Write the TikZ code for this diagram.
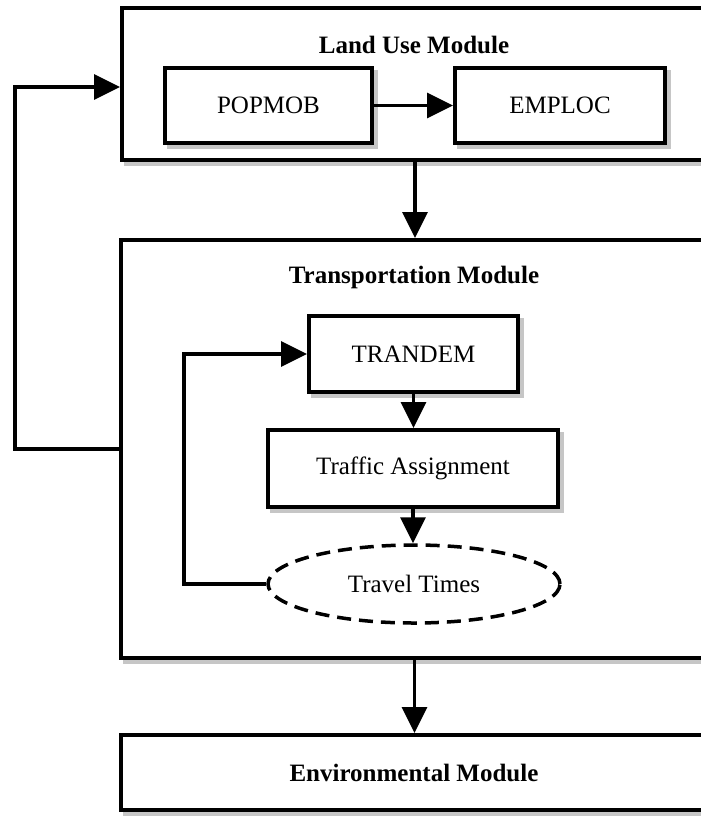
\documentclass[tikz,border=0pt]{standalone}
\usepackage{fontspec}
\setmainfont{Liberation Serif}
\usetikzlibrary{arrows.meta,shapes.geometric}
\begin{document}
\begin{tikzpicture}[x=1pt,y=-1pt,
  every node/.style={font=\fontsize{25pt}{30pt}\selectfont},
  box/.style={draw, rectangle, line width=4pt, fill=white, inner sep=0pt,
    preaction={fill=gray!45, draw=gray!45, line width=4pt, transform canvas={xshift=4pt,yshift=-4pt}}},
  modtitle/.style={font=\fontsize{25pt}{30pt}\selectfont\bfseries, inner sep=0pt},
  arr/.style={line width=3.5pt, line join=miter, -{Triangle[length=26pt,width=25pt]}},
  dashell/.style={draw, ellipse, line width=3.5pt, dash pattern=on 14pt off 8pt, fill=white, inner sep=0pt}
]
\useasboundingbox (0,0) rectangle (701,823);
\clip (0,0) rectangle (701,823);

% Land Use Module
\node[box, minimum width=586pt, minimum height=152pt] (landuse) at (415,84) {};
\node[modtitle] (lutitle) at (414,45) {Land Use Module};
\node[box, minimum width=207pt, minimum height=75pt] (popmob) at (268.5,105.5) {POPMOB};
\node[box, minimum width=210pt, minimum height=75pt] (emploc) at (560,105.5) {EMPLOC};

% Transportation Module
\node[box, minimum width=587pt, minimum height=418pt] (transport) at (414.5,449) {};
\node[modtitle] (trtitle) at (414,277) {Transportation Module};
\node[box, minimum width=209pt, minimum height=76pt] (trandem) at (413.5,354) {TRANDEM};
\node[box, minimum width=290pt, minimum height=77pt] (traffic) at (413,468.5) {Traffic Assignment};
\node[dashell, minimum width=292pt, minimum height=78pt] (travel) at (414,584) {Travel Times};

% Environmental Module
\node[box, minimum width=587pt, minimum height=75pt] (env) at (414.5,772.5) {};
\node[modtitle] (envtitle) at (414,773) {Environmental Module};

\coordinate (loopx) at (184,0);
\coordinate (outerx) at (15,0);

% connectors
\draw[arr] (popmob.east) -- (emploc.west);
\draw[arr] (landuse.south) -- (landuse.south |- transport.north);
\draw[arr] (trandem.south) -- (trandem.south |- traffic.north);
\draw[arr] (traffic.south) -- (traffic.south |- travel.north);
\draw[arr] (travel.west) -- (travel.west -| loopx) |- (trandem.west);
\draw[arr] (transport.south) -- (transport.south |- env.north);
\draw[arr] (transport.west) -- (transport.west -| outerx) |- ([yshift=-3pt]landuse.west);
\end{tikzpicture}
\end{document}
